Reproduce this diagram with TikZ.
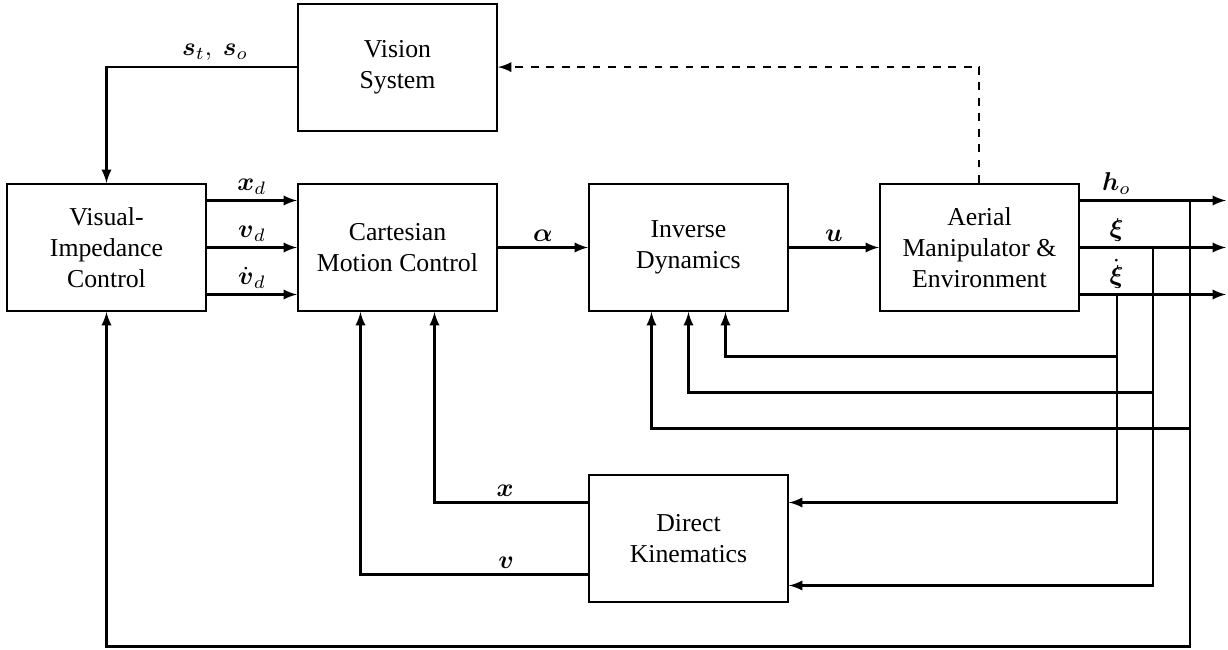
\documentclass[tikz,border=0pt]{standalone}
\usepackage{amsmath}
\usepackage{fontspec}
\setmainfont{Liberation Serif}
\usetikzlibrary{positioning,calc}

\begin{document}
\begin{tikzpicture}[x=0.388pt, y=-0.388pt, node distance=112.9pt, >=latex,
    block/.style={rectangle, draw, thick, minimum width=77.2pt, minimum height=49.3pt, text centered, align=center},
    line/.style={->, thick},
    lbl/.style={above, inner sep=2pt}]

\useasboundingbox (0,0) rectangle (1228,649);

% Blocks
\node[block] (vis) at (106.5,247.5) {Visual-\\Impedance\\Control};
\node[block, right of=vis] (cart) {Cartesian\\Motion Control};
\node[block, right of=cart] (inv) {Inverse\\Dynamics};
\node[block, right of=inv] (aer) {Aerial\\Manipulator \&\\Environment};
\node[block, above of=cart, node distance=70pt] (vision) {Vision\\System};
\node[block, below of=inv] (dk) {Direct\\Kinematics};

% Branch points and outputs
\coordinate (bho) at ($(aer.east)+(110,-47)$);
\coordinate (bxi) at ($(aer.east)+(73,0)$);
\coordinate (bxid) at ($(aer.east)+(37,47)$);
\coordinate (oho) at ($(aer.east)+(146,-47)$);
\coordinate (oxi) at ($(aer.east)+(146,0)$);
\coordinate (oxid) at ($(aer.east)+(146,47)$);

% Forward path
\draw[line] (vision.west) -| node[lbl, pos=0.215] {$\boldsymbol{s}_t,\ \boldsymbol{s}_o$} (vis.north);
\draw[line] ($(vis.east)+(0,-47)$) -- node[lbl] {$\boldsymbol{x}_d$} ($(cart.west)+(0,-47)$);
\draw[line] (vis.east) -- node[lbl] {$\boldsymbol{v}_d$} (cart.west);
\draw[line] ($(vis.east)+(0,47)$) -- node[lbl] {$\dot{\boldsymbol{v}}_d$} ($(cart.west)+(0,47)$);
\draw[line] (cart) -- node[lbl] {$\boldsymbol{\alpha}$} (inv);
\draw[line] (inv) -- node[lbl] {$\boldsymbol{u}$} (aer);
\draw[line, dashed] (aer.north) |- (vision.east);

% Outputs
\draw[line] ($(aer.east)+(0,-47)$) -- node[lbl, near start] {$\boldsymbol{h}_o$} (oho);
\draw[line] (aer.east) -- node[lbl, near start] {$\boldsymbol{\xi}$} (oxi);
\draw[line] ($(aer.east)+(0,47)$) -- node[lbl, near start] {$\dot{\boldsymbol{\xi}}$} (oxid);

% Feedback
\draw[line] (bxid) -- ++(0,62) -| ($(inv.south)+(37,0)$);
\draw[line] (bxi) -- ++(0,145) -| (inv.south);
\draw[line] (bho) -- ++(0,228) -| ($(inv.south)+(-37,0)$);
\draw[line] (bxid) |- ($(dk.east)+(0,-36)$);
\draw[line] (bxi) |- ($(dk.east)+(0,47)$);
\draw[line] (bho) -- ++(0,446) -| (vis.south);
\draw[line] ($(dk.west)+(0,-36)$) -| node[lbl, pos=0.27] {$\boldsymbol{x}$} ($(cart.south)+(37,0)$);
\draw[line] ($(dk.west)+(0,36)$) -| node[lbl, pos=0.18] {$\boldsymbol{v}$} ($(cart.south)+(-37,0)$);

\end{tikzpicture}
\end{document}
